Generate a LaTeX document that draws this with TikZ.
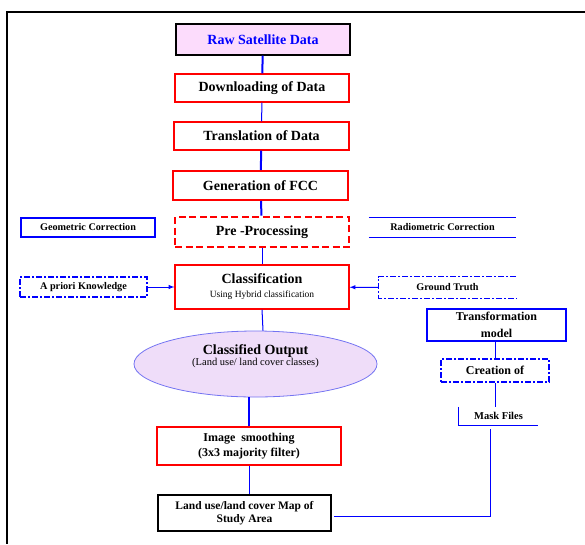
\documentclass[tikz,border=0pt]{standalone}
\usepackage{fontspec}
\setmainfont{LiberationSerif}[Extension=.ttf,UprightFont=*-Regular,BoldFont=*-Bold,
	ItalicFont=*-Italic,BoldItalicFont=*-BoldItalic]
\usetikzlibrary{shapes.geometric}
\definecolor{rawpink}{HTML}{FCDCFC}
\definecolor{ovallilac}{HTML}{EFDDF9}
\definecolor{ovalline}{HTML}{7474F2}

\begin{document}
\begin{tikzpicture}[x=1pt,y=-1pt,>=latex,
		bigtext/.style={font=\fontsize{14}{16}\selectfont\bfseries},
		smalltext/.style={font=\fontsize{10.2}{12}\selectfont\bfseries},
		redbox/.style={draw=red,line width=1.2pt,inner sep=0pt,bigtext,minimum width=174pt},
		bluebox/.style={draw=blue,line width=1.2pt,inner sep=0pt,smalltext},
		dashdot/.style={draw=blue,line width=1.3pt,dash pattern=on 6pt off 2pt on 2pt off 2pt},
		link/.style={draw=blue,line width=1pt},
		thicklink/.style={draw=blue,line width=2pt}
		]
		\useasboundingbox (0,0) rectangle (585,544);
		\draw[line width=1.2pt] (585,12) -- (6,12);
		\draw[line width=2.5pt] (7,11.4) -- (7,544);

		\node[draw,line width=1.2pt,fill=rawpink,text=blue,bigtext,minimum width=174pt,
		minimum height=31pt,inner sep=0pt](Raw) at (263,39.5){Raw Satellite Data};
		\node[redbox,minimum height=28pt](Down) at (262,88){Downloading of Data};
		\node[redbox,minimum height=28pt,minimum width=175pt](Trans) at (261.5,136){Translation of Data};
		\node[redbox,line width=2pt,minimum height=29pt,minimum width=175pt](Gen) at (260.5,185.5){Generation of FCC};
		\node[redbox,line width=2.6pt,dash pattern=on 7pt off 3.5pt,minimum height=30pt](Pre) at (262,232){Pre -Processing};
		\node[bluebox,minimum width=134pt,minimum height=19pt](Geo) at (88,227.5){Geometric Correction};
		\node[smalltext,minimum width=147pt,minimum height=19pt,inner sep=0pt](Radio) at (442.5,227.5){Radiometric Correction};
		\draw[blue,line width=1.2pt] (Radio.north west) -- (Radio.north east);
		\draw[blue,line width=1.2pt] (Radio.south west) -- (Radio.south east);

		\node[redbox,minimum height=44pt,align=center](Class) at (262,287){Classification\\[-2pt]
		{\fontsize{9.5}{11}\selectfont\mdseries Using Hybrid classification}};
		\node[smalltext,dashdot,minimum width=127pt,minimum height=20pt,inner sep=0pt](Apriori) at (83.5,287){A priori Knowledge};
		\node[smalltext,minimum width=137pt,minimum height=21pt,inner sep=0pt](Ground) at (447.5,287.5){Ground Truth};
		\draw[dashdot] (Ground.north east) -- (Ground.north west) -- (Ground.south west) -- (Ground.south east);
		\draw[->,link] (Apriori) -- (Class);
		\draw[->,link] (Ground) -- (Class);

		\node[ellipse,draw=ovalline,line width=0.8pt,fill=ovallilac,minimum width=243pt,minimum height=66pt,
		inner sep=0pt,align=center](Out) at (255.5,364){{\fontsize{14}{16}\selectfont\bfseries Classified Output}\\[-1pt]
		{\fontsize{10.5}{12}\selectfont (Land use/ land cover classes)}\\[6pt]};
		\node[redbox,minimum width=184pt,minimum height=38pt,align=center,
		font=\fontsize{12}{15}\selectfont\bfseries](Img) at (249,446){Image~ smoothing\\(3x3 majority filter)};
		\node[draw,line width=2.5pt,minimum width=173pt,minimum height=36pt,inner sep=0pt,align=center,
		font=\fontsize{11.5}{13}\selectfont\bfseries](Map) at (244.5,513){Land use/land cover Map of\\Study Area};

		\node[bluebox,minimum width=139pt,minimum height=32pt,align=center,
		font=\fontsize{12}{17}\selectfont\bfseries](Model) at (496.5,325){Transformation\\model};
		\node[dashdot,line width=1.8pt,minimum width=108pt,minimum height=23pt,inner sep=0pt,
		font=\fontsize{12}{14}\selectfont\bfseries](Creat) at (495,370.5){Creation of};
		\node[minimum width=79pt,minimum height=18pt,inner sep=0pt,
		font=\fontsize{10.5}{12}\selectfont\bfseries](Mask) at (498.5,416){Mask Files};
		\draw[blue,line width=1.2pt] (Mask.north west) -- (Mask.south west) -- (Mask.south east);

		\draw[thicklink] (Raw) -- (Down);
		\draw[link] (Down) -- (Trans);
		\draw[thicklink] (Trans) -- (Gen);
		\draw[thicklink] (Gen) -- (Pre);
		\draw[link] (Pre) -- (Class);
		\draw[link] (Out.north -| Class.south) ++(1pt,0) -- (Class.south);
		\draw[thicklink] (Img.north) -- (Img.north |- Out.south);
		\draw[link] (Img.south) -- (Img.south |- Map.north);
		\draw[link] (Creat.north) -- (Creat.north |- Model.south);
		\draw[link] (Creat.south) -- (Creat.south |- Mask.north);
		\draw[link] ([xshift=-8.5pt,yshift=-4pt]Mask.south) |- ([xshift=1.5pt,yshift=-3.5pt]Map.east);
	\end{tikzpicture}
\end{document}
